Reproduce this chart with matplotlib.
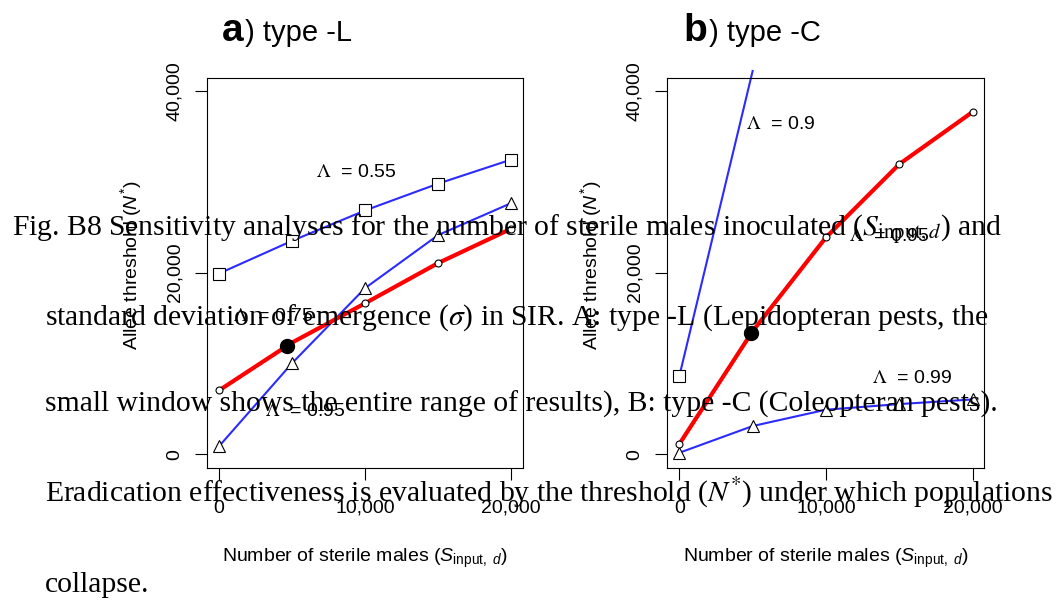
import matplotlib
matplotlib.use('Agg')
import matplotlib.pyplot as plt

plt.rcParams['font.family'] = ['Liberation Sans', 'DejaVu Sans']
plt.rcParams['mathtext.fontset'] = 'custom'
plt.rcParams['mathtext.rm'] = 'Liberation Sans'
plt.rcParams['mathtext.it'] = 'Liberation Sans:italic'
plt.rcParams['mathtext.bf'] = 'Liberation Sans:bold'

# number of sterile males released
s_input = [0, 5000, 10000, 15000, 20000]

# a) type -L, Allee threshold for each Lambda
L_055 = [19900, 23500, 26850, 29800, 32450]
L_075 = [7030, 12300, 16630, 21060, 24840]
L_095 = [880, 10030, 18300, 24140, 27660]
L_dot = (4660, 11950)

# b) type -C
C_090_x = [0, 5000]
C_090 = [8600, 42200]
C_095 = [1130, 13550, 23880, 31940, 37690]
C_099 = [170, 3110, 4910, 5530, 6040]
C_dot = (4900, 13330)

xtick_vals = [0, 10000, 20000]
xtick_labels = ['0', '10,000', '20,000']
ytick_vals = [0, 20000, 40000]
ytick_labels = ['0', '20,000', '40,000']

caption = [
    r"Fig. B8 Sensitivity analyses for the number of sterile males inoculated ($S_{\mathrm{input},d}$) and",
    r"standard deviation of emergence ($\sigma$) in SIR. A: type -L (Lepidopteran pests, the",
    r"small window shows the entire range of results), B: type -C (Coleopteran pests).",
    r"Eradication effectiveness is evaluated by the threshold ($N^{*}$) under which populations",
    r"collapse.",
]

BLUE = '#2b2bff'
RED = '#ff0000'
W, H = 1056, 602

fig = plt.figure(figsize=(W / 100, H / 100), dpi=100)
ax_a = fig.add_axes([207 / W, 1 - 468.3 / H, 316 / W, 390.6 / H])
ax_b = fig.add_axes([667.3 / W, 1 - 468.3 / H, 317 / W, 390.6 / H])


def style(ax):
    ax.set_xlim(-820, 20800)
    ax.set_ylim(-1540, 41460)
    ax.set_xticks(xtick_vals)
    ax.set_xticklabels(xtick_labels)
    ax.set_yticks(ytick_vals)
    ax.set_yticklabels(ytick_labels, rotation=90, va='center')
    ax.tick_params(direction='out', length=8.6, width=0.8, labelsize=14)
    ax.tick_params(axis='x', pad=14)
    ax.tick_params(axis='y', pad=8.6)
    for sp in ax.spines.values():
        sp.set_linewidth(0.8)


def open_line(ax, x, y, color, lw, marker, ms, **kw):
    ax.plot(x, y, color=color, lw=lw, marker=marker, ms=ms,
            mfc='white', mec='black', mew=0.8, **kw)


# panel a
open_line(ax_a, s_input, L_055, BLUE, 1.5, 's', 9)
open_line(ax_a, s_input, L_095, BLUE, 1.5, '^', 9)
open_line(ax_a, s_input, L_075, RED, 3, 'o', 5, markevery=[0, 2, 3, 4])
ax_a.plot(*L_dot, 'o', color='black', ms=10, zorder=5)

# panel b
ax_b.plot(C_090_x, C_090, color=BLUE, lw=1.5, clip_on=False)
ax_b.plot(C_090_x[:1], C_090[:1], 's', ms=9, mfc='white', mec='black', mew=0.8)
open_line(ax_b, s_input, C_099, BLUE, 1.5, '^', 9)
open_line(ax_b, s_input, C_095, RED, 3, 'o', 5, markevery=[0, 2, 3, 4])
ax_b.plot(*C_dot, 'o', color='black', ms=10, zorder=5)

for ax in (ax_a, ax_b):
    style(ax)

lam = dict(math_fontfamily='stix', fontsize=14, va='center', ha='left')
ax_a.text(6660, 30970, r"$\mathit{\Lambda}$  = 0.55", **lam)
ax_a.text(940, 15120, r"$\mathit{\Lambda}$  = 0.75", **lam)
ax_a.text(3130, 4660, r"$\mathit{\Lambda}$  = 0.95", **lam)
ax_b.text(4570, 36260, r"$\mathit{\Lambda}$  = 0.9", **lam)
ax_b.text(11600, 23930, r"$\mathit{\Lambda}$  = 0.95", **lam)
ax_b.text(13170, 8400, r"$\mathit{\Lambda}$  = 0.99", **lam)

# panel titles
fig.text(222 / W, 1 - 41 / H, 'a', fontsize=28, fontweight='bold', va='baseline')
fig.text(245 / W, 1 - 41 / H, ') type -L', fontsize=21, va='baseline')
fig.text(683 / W, 1 - 41 / H, 'b', fontsize=28, fontweight='bold', va='baseline')
fig.text(709 / W, 1 - 41 / H, ') type -C', fontsize=21, va='baseline')

# axis labels
for cx, ylx in ((365, 131), (826, 591)):
    fig.text(cx / W, 1 - 562 / H, r"Number of sterile males ($S_{\mathrm{input,}\ d}$)",
             fontsize=14, ha='center', va='baseline')
    fig.text(ylx / W, 1 - 265 / H, r"Allee threshold ($N^{*}$)",
             fontsize=14, rotation=90, ha='center', va='center')

# caption laid over the figure
for i, line in enumerate(caption):
    x0 = 12 if i == 0 else 45
    yb = [235, 325, 412, 502, 592][i]
    fig.text(x0 / W, 1 - yb / H, line, family=['Liberation Serif'],
             math_fontfamily='stix', fontsize=21.35, va='baseline', zorder=10)

fig.savefig('out.png', dpi=100)
